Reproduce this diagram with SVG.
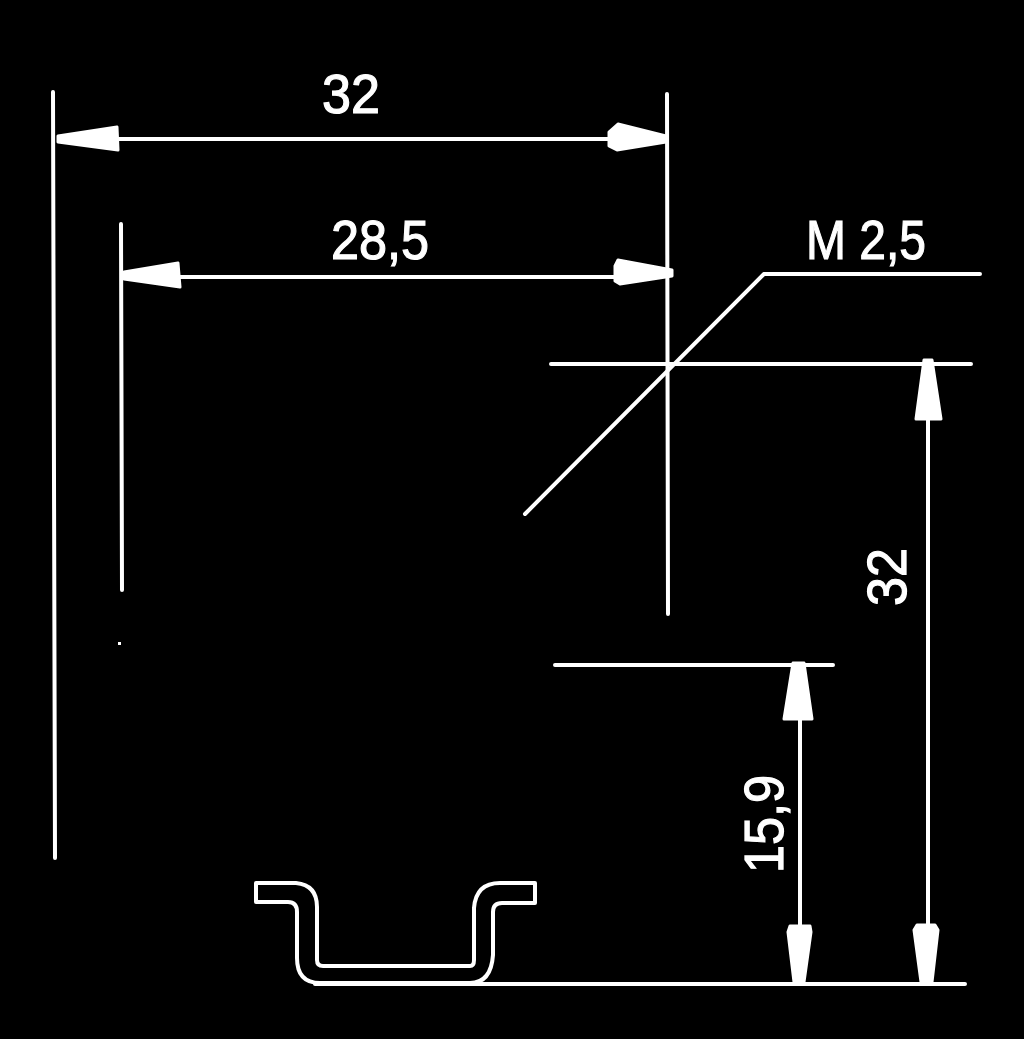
<svg xmlns="http://www.w3.org/2000/svg" width="1024" height="1039" viewBox="0 0 1024 1039">
<defs><style>
.l{stroke:#fff;stroke-width:4;fill:none;stroke-linecap:round;stroke-linejoin:round}
.a{fill:#fff;stroke:#fff;stroke-width:3;stroke-linejoin:round}
.t{fill:#fff;stroke:#fff;stroke-width:1.2;font-family:"Liberation Sans",Arial,sans-serif;font-size:56px}
</style></defs>
<rect width="1024" height="1039" fill="#000"/>
<g id="connectors">
<path class="l" d="M53 92L55 858M667 94L668 614M121 224L122 590"/>
<rect x="118" y="642" width="3" height="3" fill="#fff"/>
<path class="l" d="M118 139H612M180 277H620"/>
<path class="l" d="M551 364H971M764 274H980M764 274L525 514M555 665H833M315 984H965"/>
<path class="l" d="M928 420V930M800 720V930"/>
<path class="a" d="M58 136L117 127L118 150L58 142Z"/>
<path class="a" d="M666 136L618 124L609 132V146L617 150L666 142Z"/>
<path class="a" d="M124 272L178 263L180 287L124 279Z"/>
<path class="a" d="M672 270L618 260L615 266V281L620 284L672 276Z"/>
<path class="a" d="M924 360H932L941 419H916Z"/>
<path class="a" d="M793 663H804L812 719H784Z"/>
<path class="a" d="M794 982L788 932L790 926H810L811 932L804 982Z"/>
<path class="a" d="M921 982L914 930L917 925H935L938 930L932 982Z"/>
</g>
<g id="rail"><path class="l" d="M256 883H296Q317 885 317 907V960Q317 966 323 966H470Q474 966 474 960V908Q476 883 500 883H535V903H502Q493 903 493 912V955Q491 983 470 983H320Q297 983 297 958V912Q297 902 288 902H256Z"/></g>
<g id="label-32-top"><text class="t" x="351" y="113" text-anchor="middle" textLength="58" lengthAdjust="spacingAndGlyphs">32</text></g>
<g id="label-28-5"><text class="t" x="380" y="259" text-anchor="middle" textLength="98" lengthAdjust="spacingAndGlyphs">28,5</text></g>
<g id="label-m25"><text class="t" x="866" y="259" text-anchor="middle" textLength="120" lengthAdjust="spacingAndGlyphs">M 2,5</text></g>
<g id="label-32-side"><text class="t" transform="translate(906 577) rotate(-90)" text-anchor="middle" textLength="58" lengthAdjust="spacingAndGlyphs">32</text></g>
<g id="label-15-9"><text class="t" transform="translate(783 824) rotate(-90)" text-anchor="middle" textLength="98" lengthAdjust="spacingAndGlyphs">15,9</text></g>
</svg>
